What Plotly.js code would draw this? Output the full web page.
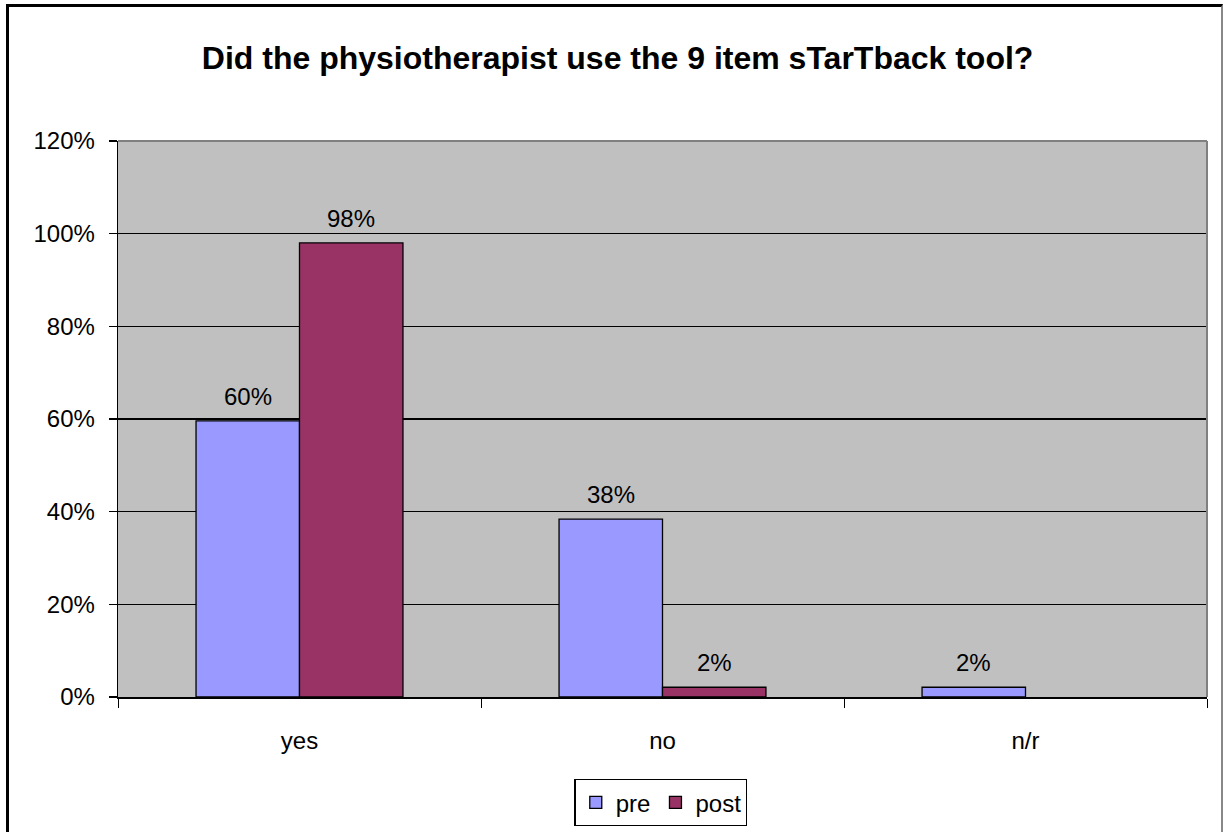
<!DOCTYPE html>
<html>
<head>
<meta charset="utf-8">
<script src="https://cdn.plot.ly/plotly-3.0.1.min.js"></script>
<style>
  body { margin: 0; background: #fff; }
  #wrap { position: relative; width: 1223px; height: 832px; overflow: hidden; }
  #chart { width: 1223px; height: 832px; }
  #frame { position: absolute; left: 6px; top: 4px; width: 1217px; height: 840px;
           border-left: 3px solid #000; border-top: 3px solid #000; border-right: 2px solid #888;
           box-sizing: border-box; pointer-events: none; }
</style>
</head>
<body>
<div id="wrap">
  <div id="chart"></div>
  <div id="frame"></div>
</div>
<script>
const categories = ["yes", "no", "n/r"];
const preValues  = [0.596, 0.384, 0.021];
const postValues = [0.980, 0.021, null];
const seriesNames = ["pre", "post"];
const yTickVals = [0, 0.2, 0.4, 0.6, 0.8, 1.0, 1.2];
const yTickText = ["0%", "20%", "40%", "60%", "80%", "100%", "120%"];

const FONT = "Arial, 'Liberation Sans', sans-serif";
const plotLeft = 118, plotRight = 1207, plotTop = 141, plotBottom = 697;
const W = 1223, H = 832;
const bargap = 0.43;
const catPx = (plotRight - plotLeft) / categories.length;
const barPx = catPx * (1 - bargap) / 2;

const traces = [
  { type: "bar", name: seriesNames[0], x: categories, y: preValues,
    marker: { color: "#9999FF", line: { color: "#000", width: 1.3 } }, hoverinfo: "none" },
  { type: "bar", name: seriesNames[1], x: categories, y: postValues,
    marker: { color: "#993366", line: { color: "#000", width: 1.3 } }, hoverinfo: "none" }
];

const annotations = [];
[preValues, postValues].forEach((vals, si) => {
  vals.forEach((v, i) => {
    if (v === null || v === undefined) return;
    annotations.push({
      x: categories[i], y: v, xref: "x", yref: "y",
      text: Math.round(v * 100) + "%", showarrow: false,
      xanchor: "center", yanchor: "bottom",
      xshift: (si === 0 ? -1 : 1) * barPx / 2, yshift: 9,
      font: { family: FONT, size: 24, color: "#000" }
    });
  });
});

const layout = {
  width: W, height: H,
  margin: { l: plotLeft, r: W - plotRight, t: plotTop, b: H - plotBottom, pad: 0, autoexpand: false },
  paper_bgcolor: "#fff",
  plot_bgcolor: "#C0C0C0",
  title: { text: "<b>Did the physiotherapist use the 9 item sTarTback tool?</b>",
           font: { family: FONT, size: 32, color: "#000" },
           xref: "container", x: 0.505, xanchor: "center",
           yref: "container", y: 1 - 58 / H, yanchor: "middle", automargin: false },
  barmode: "group", bargap: bargap, bargroupgap: 0,
  showlegend: true,
  legend: { orientation: "h", x: 0.4986, xanchor: "center",
            yref: "container", y: 1 - 779 / H, yanchor: "top",
            bordercolor: "#000", borderwidth: 1.3, bgcolor: "#fff",
            font: { family: FONT, size: 24, color: "#000" },
            itemwidth: 30, tracegroupgap: 0 },
  xaxis: { type: "category", categoryorder: "array", categoryarray: categories,
           automargin: false,
           showline: true, linecolor: "#000", linewidth: 2,
           ticks: "outside", tickson: "boundaries", ticklen: 9, tickcolor: "#000", tickwidth: 1,
           ticklabelstandoff: 21,
           tickfont: { family: FONT, size: 24, color: "#000" },
           showgrid: false, zeroline: false, fixedrange: true },
  yaxis: { range: [0, 1.2], tickvals: yTickVals, ticktext: yTickText,
           automargin: false,
           showline: true, linecolor: "#000", linewidth: 1.3,
           ticks: "outside", ticklen: 8, tickcolor: "#000", tickwidth: 1.3,
           ticklabelstandoff: 9,
           tickfont: { family: FONT, size: 24, color: "#000" },
           showgrid: true, gridcolor: "#000", gridwidth: 1.2, zeroline: false, fixedrange: true },
  shapes: [
    { type: "line", xref: "paper", yref: "paper", x0: 0, x1: 1, y0: 1, y1: 1,
      line: { color: "#808080", width: 2 }, layer: "above" },
    { type: "line", xref: "paper", yref: "paper", x0: 1, x1: 1, y0: 0, y1: 1,
      line: { color: "#808080", width: 2 }, layer: "above" }
  ],
  annotations: annotations
};

Plotly.newPlot("chart", traces, layout, { displayModeBar: false, staticPlot: true });
</script>
</body>
</html>
